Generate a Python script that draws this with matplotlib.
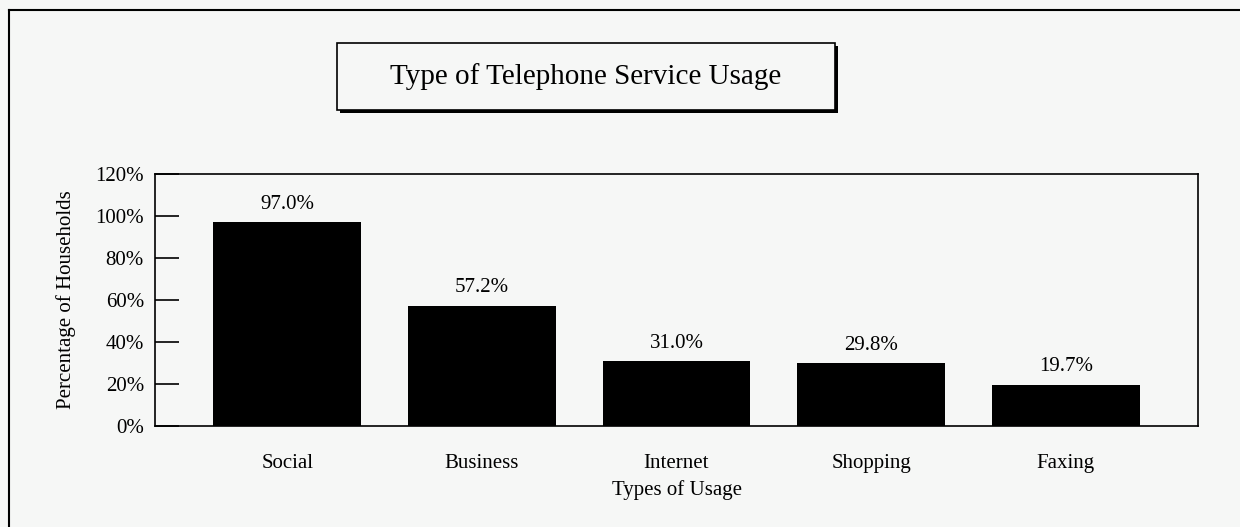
import matplotlib.pyplot as plt
from matplotlib.patches import Rectangle
from matplotlib.lines import Line2D

plt.rcParams["font.family"] = ["Liberation Serif", "DejaVu Serif"]

categories = ["Social", "Business", "Internet", "Shopping", "Faxing"]
values = [97.0, 57.2, 31.0, 29.8, 19.7]
yticks = [0, 20, 40, 60, 80, 100, 120]

W, H = 1240, 527
bg = "#f6f7f6"
fig = plt.figure(figsize=(W / 100, H / 100), dpi=100, facecolor=bg)

# outer frame (only top and left visible)
fig.lines.append(Line2D([9 / W, 9 / W], [0, 1 - 10 / H], color="black", lw=1.5, transform=fig.transFigure))
fig.lines.append(Line2D([9 / W, 1], [1 - 10 / H, 1 - 10 / H], color="black", lw=1.5, transform=fig.transFigure))

# title box with shadow
bx0, bx1, by0, by1 = 337, 835, 43, 110
fig.patches.append(Rectangle(((bx0 + 3) / W, 1 - (by1 + 3) / H), (bx1 - bx0) / W, (by1 - by0) / H,
                             transform=fig.transFigure, facecolor="black", edgecolor="black", lw=0))
fig.patches.append(Rectangle((bx0 / W, 1 - by1 / H), (bx1 - bx0) / W, (by1 - by0) / H,
                             transform=fig.transFigure, facecolor=bg, edgecolor="black", lw=1.2))
fig.text((bx0 + bx1) / 2 / W, 1 - (by0 + by1) / 2 / H, "Type of Telephone Service Usage",
         ha="center", va="center", fontsize=21)

# plot area
ax = fig.add_axes([155 / W, (H - 426) / H, 1043 / W, 252 / H])
ax.set_facecolor(bg)
x = list(range(len(categories)))
ax.bar(x, values, width=0.76, color="black")
ax.set_xlim(-0.68, 4.68)
ax.set_ylim(0, 120)
ax.set_yticks(yticks)
ax.set_yticklabels([f"{v}%" for v in yticks], fontsize=15)
ax.set_xticks(x)
ax.set_xticklabels(categories, fontsize=15)
ax.tick_params(axis="y", direction="in", length=17, width=1.2, pad=8)
ax.tick_params(axis="x", length=0, pad=20)
for s in ax.spines.values():
    s.set_linewidth(1.2)

for xi, v in zip(x, values):
    ax.text(xi, v + 4, f"{v:.1f}%", ha="center", va="bottom", fontsize=15)

ax.set_ylabel("Percentage of Households", fontsize=15, labelpad=14)
ax.set_xlabel("Types of Usage", fontsize=15, labelpad=5)

fig.savefig("out.png", dpi=100, facecolor=bg)
